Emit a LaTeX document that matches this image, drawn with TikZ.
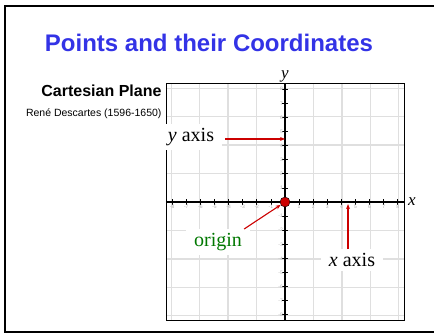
\documentclass[tikz,border=0pt]{standalone}
\usepackage{fontspec}
\setmainfont{Liberation Serif}
\setsansfont{Liberation Sans}
\usetikzlibrary{arrows.meta}
\definecolor{headblue}{RGB}{51,51,230}
\definecolor{darkgreen}{RGB}{0,120,0}
\definecolor{pointred}{RGB}{204,0,0}
\begin{document}
\begin{tikzpicture}[x=1pt, y=1pt,
    callout/.style={fill=white, inner xsep=8pt, inner ysep=4pt, font=\fontsize{20}{22}\selectfont},
    pointer/.style={-{Stealth[length=5pt,width=4pt]}, line width=1.1pt, pointred},
    ticklabel/.style={text=gray!60, inner sep=0.5pt, font=\sffamily\fontsize{5}{6}\selectfont}]
    \useasboundingbox (0,0) rectangle (434,333);

    % Frame
    \draw[line width=2pt] (436,327) -- (4.5,327) -- (4.5,1.5) -- (436,1.5);

    % Headings
    \node[text=headblue, font=\sffamily\bfseries\fontsize{24}{28}\selectfont] (title) at (209,290) {Points and their Coordinates};
    \node[anchor=east, font=\sffamily\bfseries\fontsize{16}{18}\selectfont] (plane) at (165,242) {Cartesian Plane};
    \node[anchor=east, font=\sffamily\fontsize{10.5}{12}\selectfont] (rene) at (165,219) {René Descartes (1596-1650)};

    % Plane
    \begin{scope}[shift={(285,131)}, x=14.1pt, y=14.1pt]
        \draw[gray!25, line width=1.2pt] (-8.44,-8.37) grid (8.5,8.44);
        \draw[thick] (-8.44,-8.37) rectangle (8.5,8.44);
        \draw[line width=1.5pt] (-8.44,0) -- (8.5,0);
        \draw[line width=1.5pt] (0,-8.37) -- (0,8.44);
        \foreach \i in {-8,...,-1,1,2,...,8} {
            \draw[thick] (\i,-0.2) -- (\i,0.2);
            \draw[thick] (-0.2,\i) -- (0.2,\i);
            \node[ticklabel, anchor=north] at (\i,-0.18) {\i};
            \node[ticklabel, anchor=east] at (-0.1,\i) {\i};
        }
        \node[anchor=south, inner sep=0.5pt, font=\itshape\fontsize{17}{18}\selectfont] (ylbl) at (0,8.44) {y};
        \node[anchor=west, inner sep=3pt, font=\itshape\fontsize{17}{18}\selectfont] (xlbl) at (8.5,0) {x};
        \coordinate (ymark) at (0,4.47);
        \coordinate (xmark) at (4.47,-0.15);
        \node[circle, fill=pointred, draw=black, minimum size=10pt, inner sep=0pt] (O) at (0,0) {};
    \end{scope}

    % Callouts
    \node[callout, minimum height=26pt] (ylab) at (191,196) {\textit{y} axis};
    \node[callout, text=darkgreen] (orig) at (218,91) {origin};
    \node[callout] (xlab) at (352,73) {\textit{x} axis};

    \draw[pointer] ([xshift=3pt]ylab.east |- ymark) -- (ymark);
    \draw[pointer] ([xshift=-6pt]orig.north east) -- (O);
    \draw[pointer] (xlab.north -| xmark) -- (xmark);
\end{tikzpicture}
\end{document}
